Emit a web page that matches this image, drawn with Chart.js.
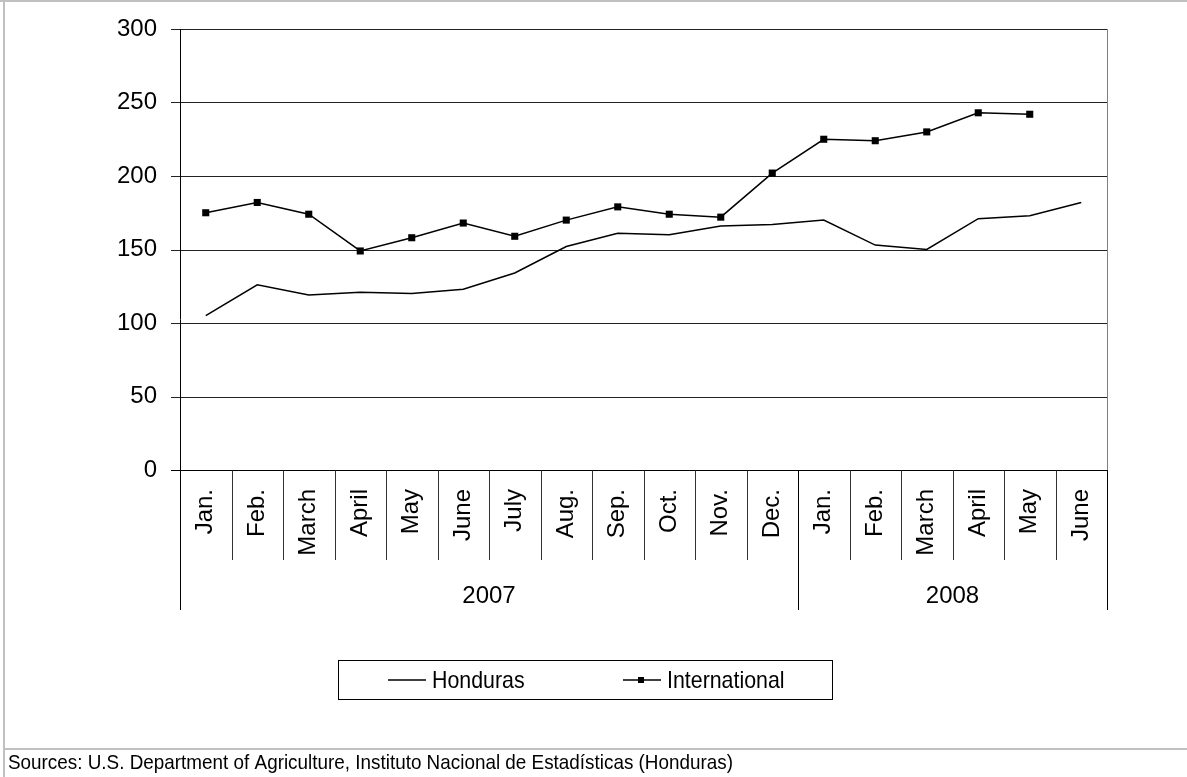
<!DOCTYPE html>
<html>
<head>
<meta charset="utf-8">
<script src="https://cdn.jsdelivr.net/npm/chart.js@4.4.0/dist/chart.umd.min.js"></script>
<style>
  body { margin: 0; background: #fff; }
  #wrap { width: 1187px; height: 777px; }
</style>
</head>
<body>
<div id="wrap"><canvas id="chart" width="1187" height="777"></canvas></div>
<script>
// chart values
const months = ["Jan.", "Feb.", "March", "April", "May", "June", "July", "Aug.", "Sep.", "Oct.", "Nov.", "Dec.",
                "Jan.", "Feb.", "March", "April", "May", "June"];
const yearLabels = ["2007", "2008"];
const yearSpans = [12, 6];
const honduras = [105, 126, 119, 121, 120, 123, 134, 152, 161, 160, 166, 167, 170, 153, 150, 171, 173, 182];
const international = [175, 182, 174, 149, 158, 168, 159, 170, 179, 174, 172, 202, 225, 224, 230, 243, 242, null];
const yTicks = [0, 50, 100, 150, 200, 250, 300];
const sourceNote = "Sources: U.S. Department of Agriculture, Instituto Nacional de Estadísticas (Honduras)";

const FONT = '"Liberation Sans", Arial, sans-serif';

function line(ctx, x1, y1, x2, y2) {
    ctx.beginPath();
    ctx.moveTo(x1, y1);
    ctx.lineTo(x2, y2);
    ctx.stroke();
}

// grid, axes, labels, legend, frame
const decor = {
    id: "decor",
    beforeDatasetsDraw(chart) {
        const { ctx, chartArea: a, scales: { y } } = chart;
        ctx.save();
        ctx.strokeStyle = "#222";
        ctx.lineWidth = 1;
        yTicks.forEach(v => {
            const py = Math.round(y.getPixelForValue(v)) + 0.5;
            line(ctx, 171, py, Math.round(a.right), py);
        });
        ctx.strokeStyle = "#808080";
        const r = Math.round(a.right) + 0.5;
        line(ctx, r, Math.round(a.top), r, Math.round(a.bottom) + 1);
        ctx.restore();
    },
    afterDraw(chart) {
        const { ctx, chartArea: a, scales: { x, y } } = chart;
        ctx.save();

        // outer frame
        ctx.strokeStyle = "#c0c0c0";
        ctx.lineWidth = 2;
        line(ctx, 0, 1, 1187, 1);
        line(ctx, 4, 0, 4, 777);
        line(ctx, 4, 749, 1187, 749);

        // y axis
        ctx.strokeStyle = "#000";
        ctx.lineWidth = 1;
        const left = Math.round(a.left) + 0.5;
        line(ctx, left, Math.round(a.top), left, 610);
        const base = Math.round(y.getPixelForValue(0)) + 0.5;
        line(ctx, 171, base, Math.round(a.right) + 1, base);

        ctx.fillStyle = "#000";
        ctx.font = "24px " + FONT;
        ctx.textAlign = "right";
        ctx.textBaseline = "middle";
        yTicks.forEach(v => ctx.fillText(String(v), 157, y.getPixelForValue(v)));

        // category boundaries
        let groupEdges = [0];
        yearSpans.forEach(s => groupEdges.push(groupEdges[groupEdges.length - 1] + s));
        for (let i = 0; i <= months.length; i++) {
            const px = Math.round(x.getPixelForValue(i - 0.5)) + 0.5;
            ctx.strokeStyle = groupEdges.includes(i) ? "#000" : "#333";
            line(ctx, px, base, px, groupEdges.includes(i) ? 610 : 560);
        }

        // month labels
        months.forEach((m, i) => {
            ctx.save();
            ctx.translate(x.getPixelForValue(i), 489);
            ctx.rotate(-Math.PI / 2);
            ctx.textAlign = "right";
            ctx.textBaseline = "middle";
            ctx.fillText(m, 0, 0);
            ctx.restore();
        });

        // year labels
        ctx.textAlign = "center";
        yearLabels.forEach((yl, k) => {
            const x1 = x.getPixelForValue(groupEdges[k] - 0.5);
            const x2 = x.getPixelForValue(groupEdges[k + 1] - 0.5);
            ctx.fillText(yl, (x1 + x2) / 2, 596);
        });

        // legend
        ctx.strokeStyle = "#000";
        ctx.strokeRect(338.5, 660.5, 494, 39);
        ctx.lineWidth = 1.5;
        line(ctx, 388, 680, 426, 680);
        line(ctx, 623, 680, 661, 680);
        ctx.fillRect(638, 677, 6, 6);
        ctx.textAlign = "left";
        [[432, 0], [667, 1]].forEach(([lx, di]) => {
            ctx.save();
            ctx.translate(lx, 681);
            ctx.scale(0.89, 1);
            ctx.fillText(chart.data.datasets[di].label, 0, 0);
            ctx.restore();
        });

        // source note
        ctx.save();
        ctx.font = "21px " + FONT;
        const w = ctx.measureText(sourceNote).width;
        ctx.translate(8, 763);
        ctx.scale(725 / w, 1);
        ctx.fillText(sourceNote, 0, 0);
        ctx.restore();

        ctx.restore();
    }
};

new Chart(document.getElementById("chart").getContext("2d"), {
    type: "line",
    data: {
        labels: months,
        datasets: [
            {
                label: "Honduras",
                data: honduras,
                borderColor: "#000",
                borderWidth: 1.5,
                pointRadius: 0,
                tension: 0
            },
            {
                label: "International",
                data: international,
                borderColor: "#000",
                borderWidth: 1.5,
                pointStyle: "rect",
                pointRadius: 5,
                pointBackgroundColor: "#000",
                pointBorderWidth: 0,
                tension: 0
            }
        ]
    },
    options: {
        responsive: false,
        animation: false,
        layout: { padding: { left: 180, top: 29, right: 80, bottom: 307 } },
        plugins: { legend: { display: false }, tooltip: { enabled: false } },
        scales: {
            x: { type: "category", offset: true, display: false },
            y: { min: 0, max: 300, display: false }
        }
    },
    plugins: [decor]
});
</script>
</body>
</html>
